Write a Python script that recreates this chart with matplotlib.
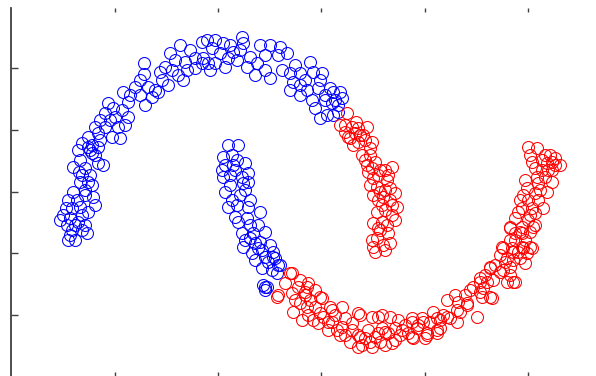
import matplotlib
matplotlib.use("Agg")
import matplotlib.pyplot as plt

# blue class (upper moon + tip of inner arm)
blue_x = [133, 133, 159, 169, 179, 191, 154, 161, 151, 157, 176, 184, 191, 137, 124, 112,
          141, 134, 117, 111, 97, 94, 104, 117, 94, 84, 107, 87, 101, 77, 71, 81, 109,
          144, 164, 174, 149, 99, 114, 89,
          77, 87, 81, 62, 69, 74, 87, 92, 71, 77, 69, 81, 62, 74, 82, 57, 61, 69, 77,
          52, 59, 67, 74, 56, 64, 76, 57, 64, 67, 84, 74, 66, 71, 61,
          196, 204, 212, 231, 232, 192, 197, 209, 214, 204, 222, 239, 236, 246, 249,
          259, 269, 276, 267, 259, 271, 279, 289, 299, 302, 311, 294, 282, 296, 307,
          319, 322, 329, 301, 314, 324, 316, 322, 327, 321, 327,
          201, 219, 226, 254, 284, 309, 314, 289, 217,
          217, 227, 212, 221, 226, 234, 214, 222, 212, 219, 231, 237, 232, 237, 214,
          239, 237, 249, 217, 226, 224, 236, 231, 242, 254, 244, 232, 249, 241, 244,
          262, 254, 264, 261, 269, 266, 254, 254, 262, 267, 256,
          219, 229, 221, 247, 239, 251, 257,
          167, 172, 147, 129, 119, 102, 89, 79, 129, 184, 199, 244, 254, 229, 279,
          289, 304, 309, 331, 68, 79, 55, 49, 71, 59, 84,
          211, 224, 234, 227, 239, 234, 247, 259, 251, 252]
blue_y = [313, 302, 323, 331, 326, 334, 309, 306, 296, 291, 306, 308, 313, 289, 289, 284,
          279, 271, 274, 266, 273, 263, 259, 259, 249, 249, 249, 243, 239, 239, 233, 231, 238,
          286, 316, 314, 304, 256, 251, 256,
          229, 229, 223, 209, 216, 208, 213, 211, 201, 194, 194, 191, 184, 181, 179, 176, 168, 169, 164,
          161, 158, 154, 151, 151, 151, 143, 136, 136, 226, 221, 186, 176, 161, 146,
          336, 336, 333, 339, 333, 318, 313, 323, 309, 313, 324, 319, 309, 313, 331,
          331, 329, 323, 321, 298, 306, 303, 303, 314, 304, 303, 296, 294, 286, 288,
          288, 284, 284, 276, 276, 276, 261, 261, 264, 273, 271,
          328, 331, 316, 321, 311, 296, 281, 291, 318,
          231, 231, 219, 221, 216, 213, 211, 211, 199, 201, 199, 203, 193, 194, 184,
          176, 169, 164, 169, 171, 159, 158, 143, 143, 144, 133, 129, 134, 123, 116,
          124, 119, 118, 106, 111, 103, 89, 86, 119, 111, 89,
          191, 181, 176, 151, 138, 126, 114,
          301, 296, 284, 281, 281, 268, 236, 226, 296, 318, 306, 301, 306, 326, 286,
          281, 268, 258, 278, 204, 201, 168, 156, 146, 141, 171,
          206, 206, 186, 154, 151, 136, 128, 131, 108, 91]

# red class (inner arm of upper part + lower moon)
red_x = [336, 329, 341, 347, 356, 344, 352, 339, 347, 361, 351, 359, 356, 364, 369, 381,
         357, 374, 362, 376, 366, 379, 362, 372, 384, 371, 381, 386, 362, 371, 384, 376,
         366, 377, 362, 372, 379, 364, 337, 349, 345, 354, 367, 369, 374, 367,
         281, 274, 287, 297, 266, 281, 294, 311, 289, 304, 319, 331, 282, 297, 312, 291,
         307, 321, 347, 361, 371, 387, 401, 317, 331, 334, 347, 354, 364, 371, 377, 391,
         401, 381, 351, 341, 279, 294, 267,
         489, 502, 516, 479, 492, 482, 496, 504, 469, 462, 472, 436, 447, 456, 466, 481,
         471, 446, 436, 429, 426, 416, 411, 401, 379, 367, 349, 321, 309, 296, 296, 302,
         317, 326, 349, 347, 359, 369, 374, 389, 397, 414, 426,
         499, 509, 522, 492, 502, 512, 521, 496, 509, 514, 499, 479, 489, 499, 502, 469,
         476, 479, 469, 456, 449, 432, 426, 439, 446, 412, 406, 416, 429, 402,
         517, 526, 519, 531, 541, 536, 524, 531, 541, 526, 534, 514, 516, 527, 541, 536,
         524, 512, 517, 527, 511, 521, 532, 507, 524, 504, 517, 499, 511, 524, 504, 511,
         491, 501, 511, 519, 507,
         539, 544, 334, 361, 374, 384, 339,
         342, 334, 359, 354, 361, 377, 359, 374, 367, 379, 366, 381, 369, 361, 374,
         289, 304, 284, 299, 309, 324, 334, 329, 341, 357, 367, 384, 394, 407, 419,
         422, 444, 454, 459, 474, 484, 494, 504, 514, 519, 499, 509, 529, 537, 521,
         534, 544, 549, 519]
red_y = [263, 251, 249, 248, 249, 243, 241, 238, 234, 234, 221, 221, 211, 214, 206, 209,
         204, 206, 198, 196, 189, 188, 181, 179, 183, 171, 171, 169, 153, 154, 156, 151,
         138, 143, 129, 131, 133, 124, 239, 241, 254, 236, 201, 184, 166, 148,
         103, 93, 89, 93, 79, 83, 81, 78, 73, 69, 69, 69, 64, 61, 59, 56,
         53, 54, 63, 59, 61, 56, 58, 46, 49, 41, 41, 38, 39, 48, 43, 46,
         39, 33, 31, 53, 103, 84, 81,
         121, 116, 123, 109, 106, 96, 94, 94, 94, 89, 88, 76, 74, 73, 59, 78,
         79, 66, 59, 56, 46, 43, 58, 54, 59, 59, 61, 66, 79, 89, 69, 56,
         54, 46, 39, 29, 34, 34, 44, 41, 43, 38, 43,
         148, 144, 149, 128, 124, 128, 128, 118, 118, 113, 109, 108, 104, 101, 94, 98,
         94, 79, 84, 71, 64, 61, 58, 58, 54, 54, 48, 41, 48, 38,
         229, 228, 221, 216, 214, 213, 208, 206, 206, 199, 199, 196, 188, 193, 194, 184,
         183, 181, 176, 176, 168, 168, 168, 164, 163, 158, 156, 149, 149, 151, 143, 143,
         129, 128, 129, 129, 124,
         221, 211, 251, 29, 31, 36, 34,
         231, 244, 228, 216, 208, 201, 191, 186, 176, 176, 164, 161, 146, 136, 126,
         96, 86, 76, 76, 63, 61, 58, 41, 46, 46, 43, 48, 51, 51, 54,
         64, 81, 81, 86, 101, 111, 114, 136, 136, 144, 136, 176, 186, 206, 214,
         221, 218, 211, 161]

x_ticks = [104, 207, 310, 414, 517]
y_ticks = [61, 123, 184, 246, 308]

fig = plt.figure(figsize=(5.96, 3.76), dpi=100)
ax = fig.add_axes([11 / 596, 0, 585 / 596, 368 / 376])

ax.plot(blue_x, blue_y, 'o', mfc='none', mec=(0, 0, 1), ms=8.6, mew=0.75)
ax.plot(red_x, red_y, 'o', mfc='none', mec=(1, 0, 0), ms=8.6, mew=0.75)

ax.set_xlim(0, 585)
ax.set_ylim(0, 368)
ax.set_xticks(x_ticks)
ax.set_yticks(y_ticks)
ax.set_xticklabels([])
ax.set_yticklabels([])

for side in ['top', 'right', 'bottom']:
    ax.spines[side].set_visible(False)
ax.spines['left'].set_color('#404040')
ax.spines['left'].set_linewidth(1.3)

ax.tick_params(axis='x', direction='in', length=3, width=1, color='#404040',
               top=True, bottom=True)
ax.tick_params(axis='y', direction='in', length=5, width=1, color='#404040')

fig.savefig('out.png', dpi=100)
